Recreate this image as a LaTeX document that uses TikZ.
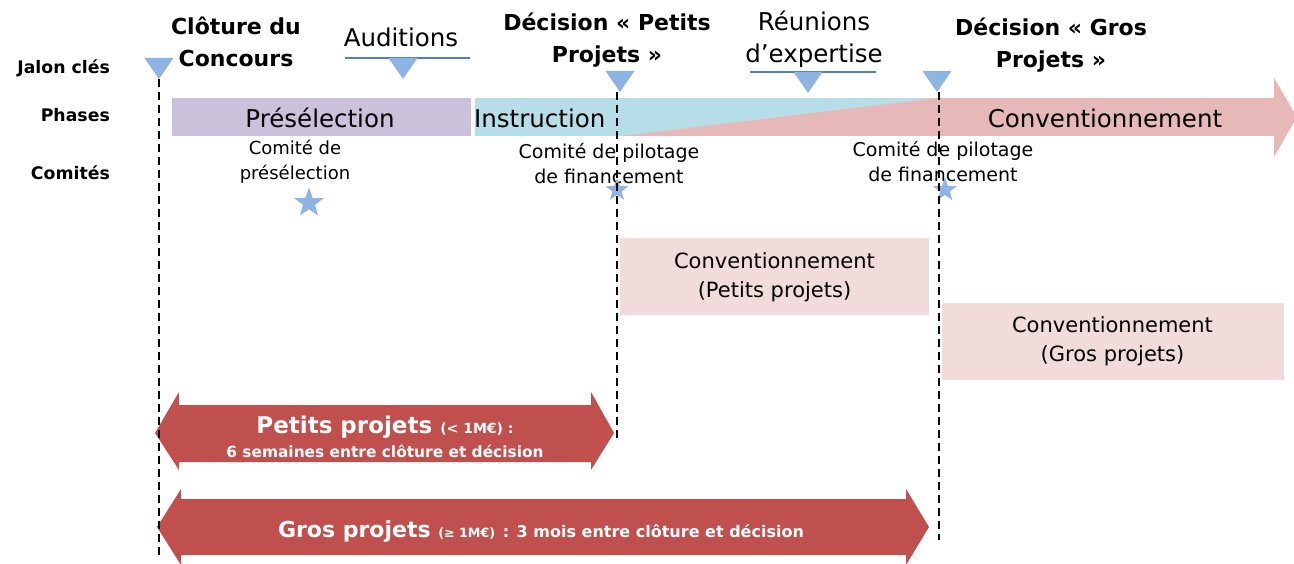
\documentclass[tikz,border=0pt]{standalone}
\usepackage{fontspec}
\setmainfont{DejaVu Sans}
\usetikzlibrary{shapes.geometric, positioning}
\definecolor{jalonblue}{HTML}{8EB4E3}
\definecolor{lineblue}{HTML}{4F81BD}
\definecolor{preselviolet}{HTML}{CCC1DA}
\definecolor{instrcyan}{HTML}{B7DEE8}
\definecolor{convpink}{HTML}{E6B9B8}
\definecolor{convlight}{HTML}{F2DCDB}
\definecolor{projred}{HTML}{C0504D}
\newcommand\fs[2]{\fontsize{#1}{#2}\selectfont}
\newcommand\jalon[3]{% name x top
  \fill[jalonblue] (#2-14.5,#3) -- (#2+14.5,#3) -- (#2,#3+21) -- cycle;
  \coordinate (#1) at (#2,#3+21);
}
\tikzset{
  milestone/.style={font=\bfseries\fs{22}{32}, align=center, anchor=base, inner sep=0pt},
  rowlabel/.style={font=\bfseries\fs{17.3}{20}, anchor=base east, inner sep=0pt},
  event/.style={font=\fs{24.5}{32}, align=center, anchor=base, inner sep=0pt},
  phase/.style={font=\fs{24.5}{28}, anchor=base, inner sep=0pt},
  comite/.style={font=\fs{19}{25}, align=center, anchor=base, inner sep=0pt},
  convbox/.style={fill=convlight, font=\fs{21}{29}, align=center, minimum height=77pt},
  comstar/.style={star, star points=5, star point ratio=2.5, fill=jalonblue, inner sep=0pt},
  jalonline/.style={dash pattern=on 8pt off 5pt, line width=2.2pt},
  duree/.style={font=\bfseries, text=white, anchor=base, inner sep=0pt}
}
\begin{document}
\begin{tikzpicture}[x=1pt, y=-1pt]
  \path[fill=white, use as bounding box] (0,0) rectangle (1294,564);
  % rows
  \node[rowlabel] (jalons) at (110,74) {Jalon clés};
  \node[rowlabel] (phases) at (110,122) {Phases};
  \node[rowlabel] (comites) at (110,180) {Comités};
  % milestones (base = last line)
  \node[milestone] (clotureTxt) at (236,67) {Clôture du\\Concours};
  \node[event] (auditions) at (401,47) {Auditions};
  \node[milestone] (petitsTxt) at (607,63) {Décision « Petits\\Projets »};
  \node[event] (reunions) at (814,63) {Réunions\\d’expertise};
  \node[milestone] (grosTxt) at (1051,68) {Décision « Gros\\Projets »};
  \draw[lineblue, line width=1.5pt] (345,58) -- (470,58);
  \draw[lineblue, line width=1.5pt] (750,72) -- (876,72);
  \jalon{cloture}{159}{58}
  \jalon{audit}{403}{58}
  \jalon{decPetits}{620}{71}
  \jalon{expert}{808}{72}
  \jalon{decGros}{937}{71}
  % phases
  \fill[preselviolet] (172,98) rectangle (471,136);
  \fill[instrcyan] (475,98) rectangle (937,136);
  \fill[convpink] (622,136) -- (937,98) -- (937,136) -- cycle;
  \fill[convpink] (936,98) -- (1274,98) -- (1274,78) -- (1297,117) -- (1274,157)
    -- (1274,136) -- (936,136) -- cycle;
  \node[phase] (preselection) at (320,128) {Présélection};
  \node[phase, anchor=base west] (instruction) at (474,128) {Instruction};
  \node[phase] (convPhase) at (1105,128) {Conventionnement};
  % comites
  \node[comite, font=\fs{18}{25}] (comPresel) at (295,180) {Comité de\\présélection};
  \node[comite] (comPetits) at (609,184) {Comité de pilotage\\de financement};
  \node[comite] (comGros) at (943,182) {Comité de pilotage\\de financement};
  \node[comstar, minimum size=31pt] (starPresel) at (309,203) {};
  \node[comstar, minimum size=24pt] (starPetits) at (617,190) {};
  \node[comstar, minimum size=25pt] (starGros) at (945,190) {};
  % conventionnement
  \node[convbox, minimum width=309pt] (convPetits) at (774.5,277) {Conventionnement\\(Petits projets)};
  \node[convbox, minimum width=342pt] (convGros) at (1112.5,341.5) {Conventionnement\\(Gros projets)};
  % durees
  \fill[projred] (155,433) -- (179,392) -- (179,405) -- (591,405) -- (591,392) -- (614,433)
    -- (591,470) -- (591,462) -- (179,462) -- (179,470) -- cycle;
  \fill[projred] (157,527) -- (181,489) -- (181,499) -- (906,499) -- (906,489) -- (929,527)
    -- (906,565) -- (906,555) -- (181,555) -- (181,565) -- cycle;
  \node[duree] (petitsDuree) at (385,433) {\fs{23}{24}Petits projets {\fs{14}{16}(< 1M€) :}};
  \node[duree] (petitsDelai) at (385,457) {\fs{15.4}{18}6 semaines entre clôture et décision};
  \node[duree] (grosDuree) at (541,537) {\fs{22}{24}Gros projets {\fs{12.7}{14}(≥ 1M€)} {\fs{16}{18}: 3 mois entre clôture et décision}};
  % jalons
  \coordinate (clotureEnd) at (159,555);
  \coordinate (decPetitsEnd) at (617,438);
  \coordinate (decGrosEnd) at (939,540);
  \draw[jalonline] (cloture) -- (clotureEnd);
  \draw[jalonline] (decPetits) ++(-3,0) -- (decPetitsEnd);
  \draw[jalonline] (decGros) ++(2,0) -- (decGrosEnd);
\end{tikzpicture}
\end{document}
